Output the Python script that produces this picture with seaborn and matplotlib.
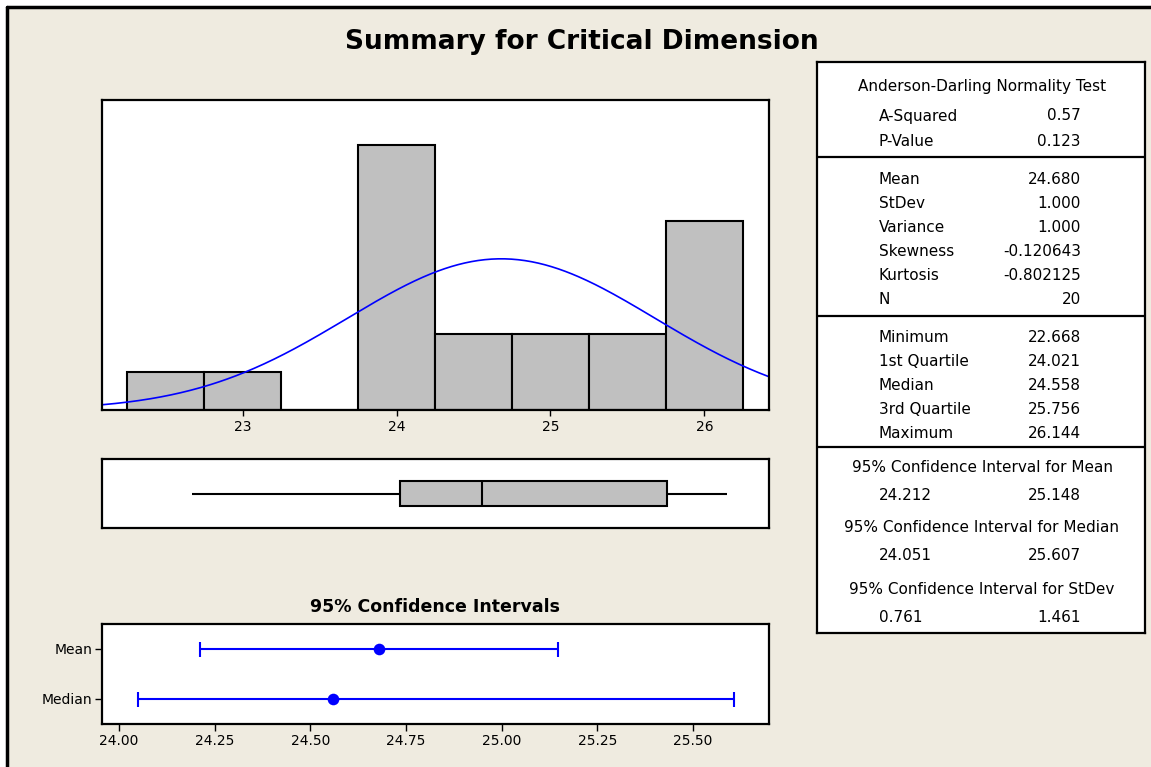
import numpy as np
import matplotlib
matplotlib.use("Agg")
import matplotlib.pyplot as plt
from matplotlib import font_manager
from matplotlib.patches import Rectangle
from matplotlib.lines import Line2D
import seaborn as sns

# histogram of Critical Dimension (bin edges and counts)
bin_edges = [22.25, 22.75, 23.25, 23.75, 24.25, 24.75, 25.25, 25.75, 26.25]
bin_counts = [1, 1, 0, 7, 2, 2, 2, 5]
mean_val = 24.680
stdev_val = 1.000
n_obs = 20

# five-number summary for the boxplot
box_values = [22.668, 24.021, 24.558, 25.756, 26.144]

# 95% confidence intervals
ci_labels = ["Mean", "Median"]
ci_centers = [24.680, 24.558]
ci_low = [24.212, 24.051]
ci_high = [25.148, 25.607]

# stats table
ad_labels = ["A-Squared", "P-Value"]
ad_values = ["0.57", "0.123"]
mom_labels = ["Mean", "StDev", "Variance", "Skewness", "Kurtosis", "N"]
mom_values = ["24.680", "1.000", "1.000", "-0.120643", "-0.802125", "20"]
q_labels = ["Minimum", "1st Quartile", "Median", "3rd Quartile", "Maximum"]
q_values = ["22.668", "24.021", "24.558", "25.756", "26.144"]
ci_headers = ["95% Confidence Interval for Mean",
              "95% Confidence Interval for Median",
              "95% Confidence Interval for StDev"]
ci_table = [("24.212", "25.148"), ("24.051", "25.607"), ("0.761", "1.461")]

sns.set_style("white")
plt.rcParams["font.family"] = ["DejaVu Sans"]
for k in ("text.color", "axes.labelcolor", "xtick.color", "ytick.color"):
    plt.rcParams[k] = "black"

try:
    font_manager.findfont("Liberation Sans Narrow", fallback_to_default=False)
    narrow = "Liberation Sans Narrow"
    title_size, tick_size = 23, 12
except Exception:
    narrow = "DejaVu Sans"
    title_size, tick_size = 19, 10

W, H = 1151, 767
BEIGE = "#EFEBE0"
GREY = "#C0C0C0"


def box(l, t, r, b):
    return [l / W, 1 - b / H, (r - l) / W, (b - t) / H]


fig = plt.figure(figsize=(W / 100, H / 100), dpi=100, facecolor="white")
fx, fy = 7 / W, 1 - 7 / H
fig.patches.append(Rectangle((fx, 0), 1 - fx, fy, transform=fig.transFigure,
                             facecolor=BEIGE, edgecolor="none", zorder=-10))
fig.lines.append(Line2D([fx, fx], [0, fy], transform=fig.transFigure,
                        color="black", linewidth=2.5))
fig.lines.append(Line2D([fx, 1], [fy, fy], transform=fig.transFigure,
                        color="black", linewidth=2.5))

fig.text(582 / W, 1 - 42 / H, "Summary for Critical Dimension",
         ha="center", va="center", fontsize=title_size, fontweight="bold",
         family=narrow)

# ---- histogram ----
ax = fig.add_axes(box(102, 100, 769, 410))
centers = [(a + b) / 2 for a, b in zip(bin_edges[:-1], bin_edges[1:])]
sns.histplot(x=centers, weights=bin_counts, bins=bin_edges, ax=ax,
             color=GREY, edgecolor="black", linewidth=1.5, alpha=1)
xlim = (22.086, 26.42)
xs = np.linspace(xlim[0], xlim[1], 400)
bw = bin_edges[1] - bin_edges[0]
ys = n_obs * bw * np.exp(-0.5 * ((xs - mean_val) / stdev_val) ** 2) / (stdev_val * np.sqrt(2 * np.pi))
sns.lineplot(x=xs, y=ys, ax=ax, color="blue", linewidth=1.2)
ax.set_xlim(xlim)
ax.set_ylim(0, 8.18)
ax.set_xticks([23, 24, 25, 26])
ax.set_yticks([])
ax.set_xlabel("")
ax.set_ylabel("")
ax.tick_params(axis="x", direction="out", length=4, width=1, bottom=True,
               labelsize=tick_size, pad=3)
for lab in ax.get_xticklabels():
    lab.set_family(narrow)

# ---- boxplot ----
axb = fig.add_axes(box(102, 459, 769, 528))
sns.boxplot(x=box_values, ax=axb, color=GREY, linecolor="black",
            linewidth=1.5, width=0.35, saturation=1, showcaps=False,
            whis=10, fliersize=0)
axb.set_xlim(xlim)
axb.set_ylim(0.5, -0.5)
axb.set_xticks([])
axb.set_yticks([])

# ---- confidence intervals ----
axc = fig.add_axes(box(102, 624, 769, 724))
xerr = [[c - lo for c, lo in zip(ci_centers, ci_low)],
        [hi - c for c, hi in zip(ci_centers, ci_high)]]
axc.errorbar(ci_centers, [0, 1], xerr=xerr, fmt="none", ecolor="blue",
             elinewidth=1.5, capsize=5.4, capthick=1.5)
sns.scatterplot(x=ci_centers, y=[0, 1], ax=axc, color="blue", s=70,
                edgecolor="blue", linewidth=0, zorder=3)
axc.set_xlim(23.956, 25.698)
axc.set_ylim(1.5, -0.5)
ticks = [24.00, 24.25, 24.50, 24.75, 25.00, 25.25, 25.50]
axc.set_xticks(ticks)
axc.set_xticklabels([f"{t:.2f}" for t in ticks], family=narrow)
axc.set_yticks([0, 1])
axc.set_yticklabels(ci_labels, family=narrow)
axc.tick_params(direction="out", length=5, width=1, bottom=True, left=True,
                labelsize=tick_size, pad=2)
fig.text(435 / W, 1 - 607 / H, "95% Confidence Intervals", ha="center",
         va="center", fontsize=12.5, fontweight="bold")

for a in (ax, axb, axc):
    a.set_facecolor("white")
    for s in a.spines.values():
        s.set_visible(True)
        s.set_color("black")
        s.set_linewidth(1.6)

# ---- stats table ----
axt = fig.add_axes(box(817, 62, 1145, 633))
axt.set_xlim(817, 1145)
axt.set_ylim(633, 62)
axt.set_xticks([])
axt.set_yticks([])
axt.set_facecolor("white")
for s in axt.spines.values():
    s.set_color("black")
    s.set_linewidth(1.6)
for yy in (157, 316, 447):
    axt.axhline(yy, color="black", linewidth=1.6)

fs = 11
LX, RX, CX = 879, 1081, 982


def row(y, label, value):
    axt.text(LX, y, label, ha="left", va="center", fontsize=fs)
    axt.text(RX, y, value, ha="right", va="center", fontsize=fs)


axt.text(CX, 87, "Anderson-Darling Normality Test", ha="center",
         va="center", fontsize=fs)
for y, l, v in zip([116, 142], ad_labels, ad_values):
    row(y, l, v)
for y, l, v in zip([179, 203, 227, 252, 276, 300], mom_labels, mom_values):
    row(y, l, v)
for y, l, v in zip([337, 362, 386, 410, 434], q_labels, q_values):
    row(y, l, v)
for hy, vy, h, (lo, hi) in zip([467, 527, 589], [496, 556, 618],
                               ci_headers, ci_table):
    axt.text(CX, hy, h, ha="center", va="center", fontsize=fs)
    row(vy, lo, hi)

fig.savefig("out.png", dpi=100, facecolor=fig.get_facecolor())
